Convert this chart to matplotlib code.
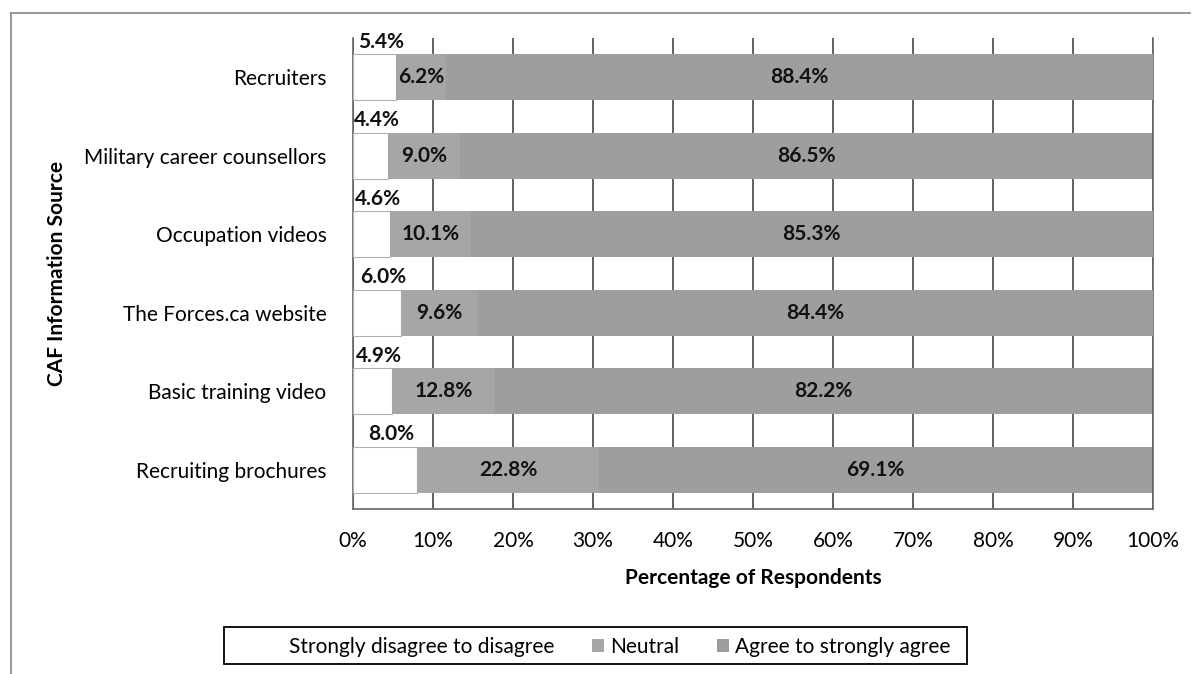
import numpy as np
import matplotlib.pyplot as plt
from matplotlib.lines import Line2D
from matplotlib.patches import Rectangle

plt.rcParams['font.family'] = ['Lato', 'DejaVu Sans']

categories = ['Recruiters', 'Military career counsellors', 'Occupation videos',
              'The Forces.ca website', 'Basic training video', 'Recruiting brochures']
disagree = [5.4, 4.4, 4.6, 6.0, 4.9, 8.0]
neutral = [6.2, 9.0, 10.1, 9.6, 12.8, 22.8]
agree = [88.4, 86.5, 85.3, 84.4, 82.2, 69.1]
series_names = ['Strongly disagree to disagree', 'Neutral', 'Agree to strongly agree']

W, H = 1195, 674
fig = plt.figure(figsize=(W / 100, H / 100), dpi=100)
ax = fig.add_axes([353 / W, 1 - 509 / H, 800 / W, 471 / H])

y = np.arange(len(categories))
d = np.array(disagree)
n = np.array(neutral)
a = np.array(agree)
h = 0.59
fs = 15

ax.barh(y, d, height=h, color='white', edgecolor='#b0b0b0', linewidth=0.8,
        label=series_names[0], zorder=3)
ax.barh(y, n, left=d, height=h, color='#a6a6a6', label=series_names[1], zorder=3)
ax.barh(y, a, left=d + n, height=h, color='#9e9e9e', label=series_names[2], zorder=3)

for i in range(len(categories)):
    ax.text(d[i] / 2 + 0.8, y[i] - h / 2 - 0.03, f'{disagree[i]:.1f}%', ha='center',
            va='bottom', fontsize=fs, fontweight='bold', color='#111111', zorder=4)
    ax.text(d[i] + n[i] / 2, y[i], f'{neutral[i]:.1f}%', ha='center', va='center',
            fontsize=fs, fontweight='bold', color='#111111', zorder=4)
    ax.text(d[i] + n[i] + a[i] / 2, y[i], f'{agree[i]:.1f}%', ha='center', va='center',
            fontsize=fs, fontweight='bold', color='#111111', zorder=4)

ax.set_xlim(0, 100)
ax.set_ylim(len(categories) - 0.5, -0.5)
ax.set_xticks(np.arange(0, 101, 10))
ax.set_xticklabels([f'{v}%' for v in range(0, 101, 10)], fontsize=fs)
ax.set_yticks(y)
ax.set_yticklabels(categories, fontsize=fs)
ax.tick_params(axis='y', length=0, pad=19)
ax.tick_params(axis='x', length=0, pad=16)
ax.grid(axis='x', color='#555555', linewidth=1.3, zorder=0)
ax.spines['top'].set_visible(False)
for s in ['left', 'bottom', 'right']:
    ax.spines[s].set_color('#666666')
    ax.spines[s].set_linewidth(1.2)

ax.set_xlabel('Percentage of Respondents', fontsize=fs, fontweight='bold', labelpad=12)
fig.text(57 / W, 1 - 273 / H, 'CAF Information Source', rotation=90, ha='center',
         va='center', fontsize=fs, fontweight='bold')

# legend: box drawn separately, entries spread evenly inside
fig.add_artist(Rectangle((224 / W, 1 - 664 / H), 743 / W, 37 / H, transform=fig.transFigure,
                         facecolor='white', edgecolor='black', linewidth=1.3, zorder=1))
handles, labels = ax.get_legend_handles_labels()
leg = fig.legend(handles, labels, loc='lower left',
                 bbox_to_anchor=(263 / W, 1 - 664 / H, 695 / W, 37 / H), mode='expand',
                 ncol=3, fontsize=fs, frameon=False, handlelength=0.6, handleheight=0.6,
                 handletextpad=0.3, borderpad=0.35, borderaxespad=0)
leg.set_zorder(2)
leg.legend_handles[0].set_edgecolor('white')

# outer frame (top and left edges visible in the scan)
fig.add_artist(Line2D([11 / W, 11 / W], [0, 1 - 13 / H], transform=fig.transFigure,
                      color='#888888', linewidth=1.2))
fig.add_artist(Line2D([11 / W, 1190 / W], [1 - 13 / H, 1 - 13 / H],
                      transform=fig.transFigure, color='#888888', linewidth=1.2))

fig.savefig('out.png', dpi=100)
